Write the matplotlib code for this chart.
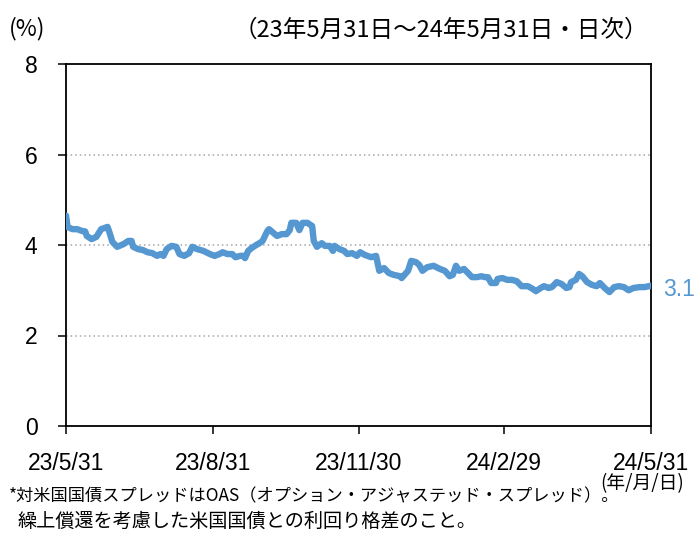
import matplotlib
matplotlib.use("Agg")
import matplotlib.pyplot as plt
import pandas as pd

# ---- data ----
start_date = "2023-05-31"
day_offsets = [0, 1, 4, 7, 10, 12, 13, 16, 19, 22, 26, 27, 29, 32, 36, 39, 41, 42, 45, 48,
               51, 54, 57, 59, 61, 63, 66, 69, 71, 74, 77, 79, 82, 86, 90, 93, 96, 98, 101, 104,
               106, 109, 111, 112, 114, 116, 119, 121, 123, 126, 127, 129, 132, 135, 138, 140, 141, 144, 146, 148,
               151, 154, 155, 157, 160, 162, 165, 167, 168, 171, 174, 176, 179, 182, 184, 187, 191, 194, 196, 199,
               202, 205, 209, 210, 214, 216, 219, 221, 223, 226, 230, 234, 237, 240, 242, 244, 246, 249, 251, 254,
               257, 260, 262, 264, 266, 269, 270, 273, 276, 279, 282, 285, 289, 292, 294, 297, 299, 302, 304, 307,
               310, 313, 315, 316, 319, 321, 323, 326, 329, 332, 334, 337, 340, 343, 346, 349, 352, 355, 359, 362, 366]
spread = [4.65, 4.40, 4.35, 4.35, 4.31, 4.30, 4.20, 4.13, 4.18, 4.35, 4.40, 4.30, 4.07, 3.96, 4.02, 4.09, 4.09, 3.96, 3.91, 3.89,
          3.84, 3.82, 3.76, 3.80, 3.76, 3.91, 3.98, 3.96, 3.80, 3.76, 3.82, 3.96, 3.91, 3.87, 3.80, 3.76, 3.80, 3.84, 3.80, 3.80,
          3.73, 3.76, 3.76, 3.71, 3.87, 3.93, 4.00, 4.04, 4.09, 4.31, 4.35, 4.29, 4.20, 4.24, 4.24, 4.33, 4.49, 4.49, 4.33, 4.49,
          4.49, 4.42, 4.09, 3.96, 4.04, 3.98, 3.98, 3.87, 3.98, 3.91, 3.87, 3.80, 3.82, 3.76, 3.84, 3.78, 3.73, 3.76, 3.43, 3.49,
          3.38, 3.34, 3.31, 3.27, 3.43, 3.65, 3.62, 3.56, 3.43, 3.51, 3.54, 3.47, 3.43, 3.31, 3.34, 3.54, 3.43, 3.47, 3.40, 3.29,
          3.29, 3.31, 3.29, 3.29, 3.16, 3.16, 3.25, 3.27, 3.23, 3.23, 3.20, 3.09, 3.09, 3.03, 2.98, 3.05, 3.09, 3.05, 3.07, 3.18,
          3.14, 3.05, 3.07, 3.18, 3.23, 3.36, 3.31, 3.18, 3.12, 3.09, 3.16, 3.05, 2.96, 3.07, 3.09, 3.07, 3.00, 3.05, 3.07, 3.07, 3.10]
tick_dates = ["2023-05-31", "2023-08-31", "2023-11-30", "2024-02-29", "2024-05-31"]
tick_labels = ["23/5/31", "23/8/31", "23/11/30", "24/2/29", "24/5/31"]
y_ticks = [0, 2, 4, 6, 8]
grid_levels = [2, 4, 6]
last_label = "3.1"

title_text = "（23年5月31日～24年5月31日・日次）"
unit_text = "(%)"
xunit_text = "(年/月/日)"
note1 = "*対米国国債スプレッドはOAS（オプション・アジャステッド・スプレッド）。"
note2 = "繰上償還を考慮した米国国債との利回り格差のこと。"

# ---- figure ----
W, H = 695, 534
fig = plt.figure(figsize=(W / 100, H / 100), dpi=100)
L, R, T, B = 66, 651, 64, 426
ax = fig.add_axes([L / W, 1 - B / H, (R - L) / W, (B - T) / H])

dates = pd.to_datetime(start_date) + pd.to_timedelta(day_offsets, unit="D")
line_color = "#5597D0"
ax.plot(dates, spread, color=line_color, lw=4.6, solid_joinstyle="round", solid_capstyle="round", zorder=3)

ax.set_xlim(pd.to_datetime(tick_dates[0]), pd.to_datetime(tick_dates[-1]))
ax.set_ylim(0, 8)
ax.set_yticks(y_ticks)
ax.set_xticks(pd.to_datetime(tick_dates))
ax.set_xticklabels(tick_labels)

for lab in ax.get_xticklabels() + ax.get_yticklabels():
    lab.set_fontfamily(["Liberation Sans", "DejaVu Sans"])
    lab.set_fontsize(16.5)

ax.tick_params(axis="both", direction="out", length=5.5, width=1.1, color="black")
ax.tick_params(axis="x", pad=13)
ax.tick_params(axis="y", pad=15)

for g in grid_levels:
    ax.axhline(g, color="#A6A6A6", lw=1.1, ls=(0, (1, 2)), zorder=1)

for s in ax.spines.values():
    s.set_color("black")
    s.set_linewidth(1.3)

cjk = ["Noto Sans CJK JP", "DejaVu Sans"]

def fx(px):
    return px / W

def fy(py):
    return 1 - py / H

fig.text(fx(9), fy(29), unit_text, family=cjk, fontsize=16.5, ha="left", va="center")
fig.text(fx(648), fy(30), title_text, family=cjk, fontsize=17, ha="right", va="center")
fig.text(fx(663), fy(290), last_label, family=["Liberation Sans", "DejaVu Sans"], fontsize=16.5,
         color=line_color, ha="left", va="center")
fig.text(fx(600), fy(484), xunit_text, family=cjk, fontsize=13.5, ha="left", va="center")
fig.text(fx(9), fy(496), note1, family=cjk, fontsize=12.4, ha="left", va="center")
fig.text(fx(17), fy(521), note2, family=cjk, fontsize=13.8, ha="left", va="center")

fig.savefig("out.png", dpi=100)
